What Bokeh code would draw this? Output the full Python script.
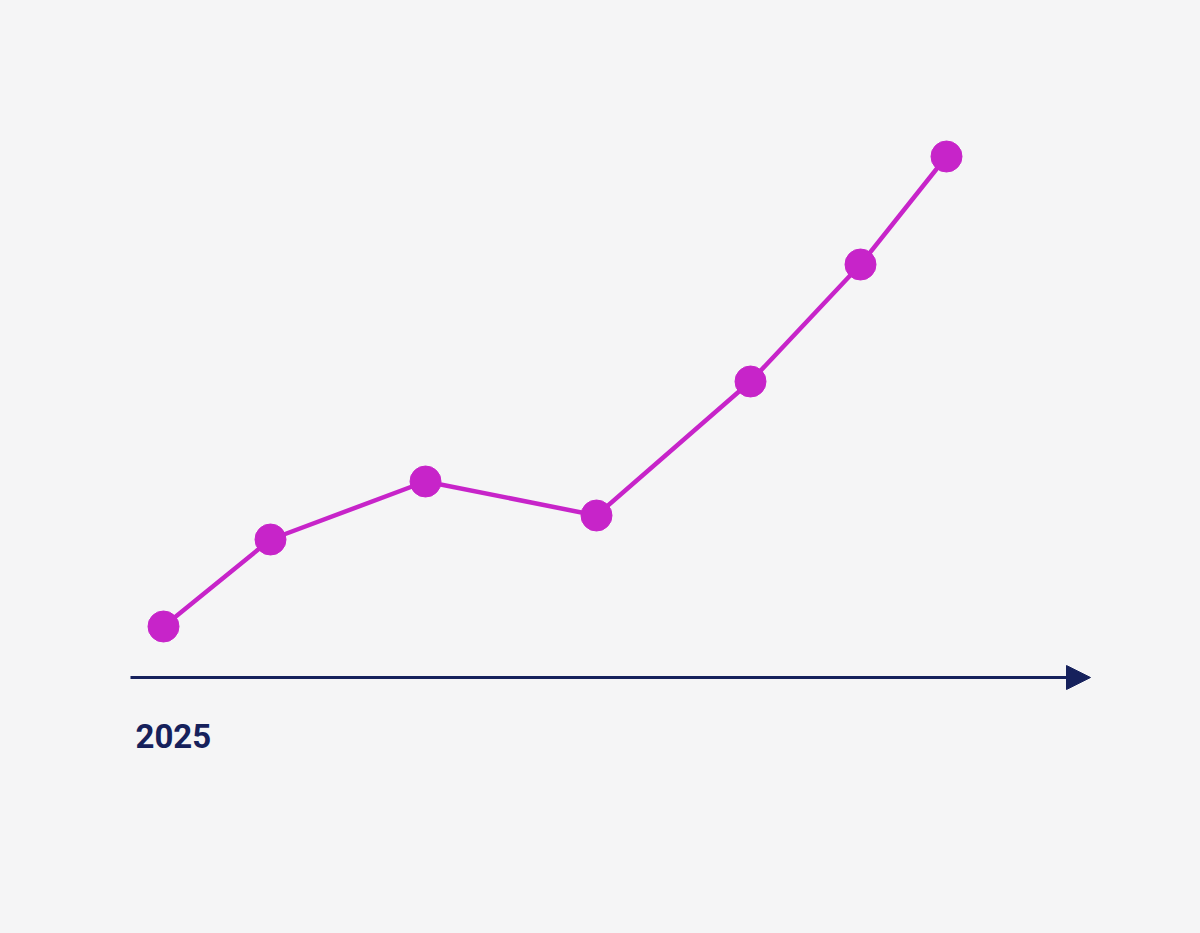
from bokeh.plotting import figure
from bokeh.models import Range1d, Arrow, NormalHead, Label
from bokeh.embed import file_html
from bokeh.resources import INLINE

# Data: months since start of 2025 and a growth index
months = [0.825, 3.5, 7.375, 11.65, 15.5, 18.25, 20.4]
values = [5.1, 13.8, 19.6, 16.2, 29.6, 41.3, 52.1]
axis_start = 0
axis_end = 24
start_label = "2025"

BG = "#f5f5f6"
MAGENTA = "#c724c9"
NAVY = "#16215c"

p = figure(width=1184, height=917, output_backend="svg", toolbar_location=None,
           x_range=Range1d(-3.25, 26.35), y_range=Range1d(-24.0, 67.7),
           min_border=0, background_fill_color=BG, border_fill_color=BG,
           outline_line_color=None)
p.axis.visible = False
p.grid.visible = False

p.line(months, values, line_color=MAGENTA, line_width=4.5)
p.scatter(months, values, size=31, fill_color=MAGENTA, line_color=MAGENTA)

p.add_layout(Arrow(x_start=axis_start, y_start=0, x_end=axis_end, y_end=0,
                   line_color=NAVY, line_width=3,
                   end=NormalHead(size=24, fill_color=NAVY, line_color=NAVY, line_width=1)))

p.add_layout(Label(x=axis_start + 0.125, y=-5.8, text=start_label,
                   text_font="Roboto", text_font_style="bold", text_font_size="33px",
                   text_color=NAVY, text_baseline="alphabetic"))

html = file_html(p, INLINE)
html = html.replace("<body>", '<body style="background:%s">' % BG)
open("out.html", "w").write(html)
